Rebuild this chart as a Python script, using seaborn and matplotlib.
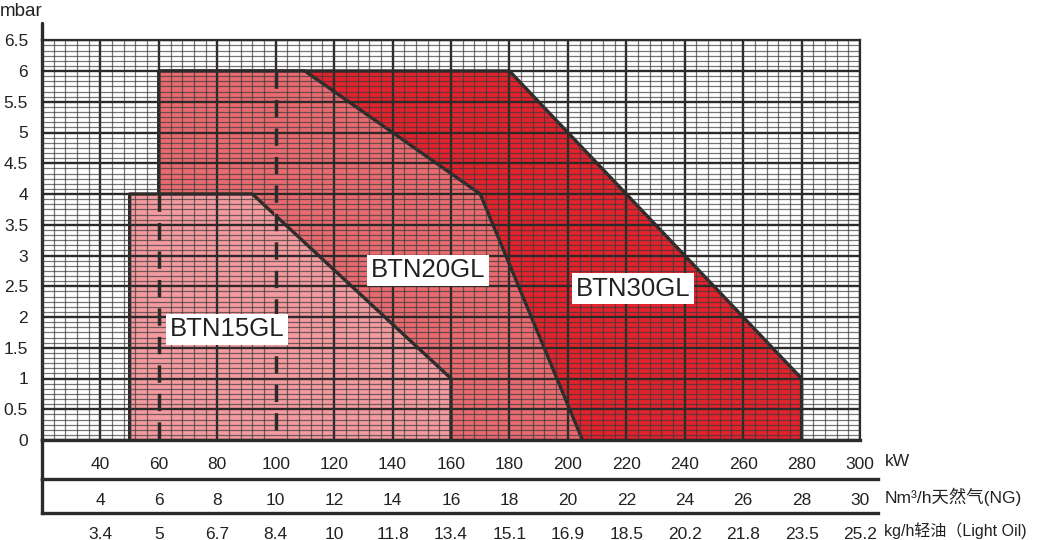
import matplotlib
matplotlib.use("Agg")
import matplotlib.pyplot as plt
import seaborn as sns
import pandas as pd
import numpy as np
from matplotlib.ticker import MultipleLocator

# burner working ranges (kW vs mbar)
btn15_kw = [50, 50, 92, 160, 160]
btn15_mbar = [0, 4, 4, 1, 0]
btn20_kw = [60, 60, 110, 170, 205]
btn20_mbar = [0, 6, 6, 4, 0]
btn30_kw = [60, 60, 180, 280, 280]
btn30_mbar = [0, 6, 6, 1, 0]

models = ["BTN30GL", "BTN20GL", "BTN15GL"]
fill_colors = ["#e3222c", "#e96b70", "#f49ba0"]
label_pos = [(222.3, 2.46), (152.1, 2.76), (83.3, 1.80)]

dash_kw = [60, 100]
dash_top = [4, 6]

kw_ticks = list(range(40, 301, 20))
ng_labels = ["4", "6", "8", "10", "12", "14", "16", "18", "20", "22", "24", "26", "28", "30"]
oil_labels = ["3.4", "5", "6.7", "8.4", "10", "11.8", "13.4", "15.1", "16.9",
              "18.5", "20.2", "21.8", "23.5", "25.2"]
mbar_ticks = [i * 0.5 for i in range(14)]

sns.set_style("white")
plt.rcParams["font.family"] = ["Liberation Sans", "Noto Sans CJK SC", "DejaVu Sans"]

dark = "#2e2a2a"
W, H = 1037, 540
fig = plt.figure(figsize=(W / 100, H / 100), dpi=100)

L = 42 / W
R = 860 / W
ax = fig.add_axes([L, 1 - 440 / H, R - L, (440 - 40.25) / H])

rows = [
    pd.DataFrame({"kw": btn30_kw, "mbar": btn30_mbar}),
    pd.DataFrame({"kw": btn20_kw, "mbar": btn20_mbar}),
    pd.DataFrame({"kw": btn15_kw, "mbar": btn15_mbar}),
]

# each range covers the outline of the one drawn before it
for i, df in enumerate(rows):
    ax.fill(df["kw"], df["mbar"], color=fill_colors[i], zorder=1 + 0.2 * i, lw=0)
    sns.lineplot(data=df, x="kw", y="mbar", sort=False, estimator=None,
                 color=dark, lw=2.4, ax=ax, zorder=1.1 + 0.2 * i)

# dashed lines: the gaps show the fill colour (with the horizontal grid)
top15 = np.interp(dash_kw, btn15_kw[2:4], btn15_mbar[2:4])
for x, t, d in zip(dash_kw, top15, dash_top):
    ax.plot([x, x], [0, t], color=fill_colors[2], lw=2.6, zorder=1.9)
    if t < d:
        ax.plot([x, x], [t, d], color=fill_colors[1], lw=2.6, zorder=1.9)
    ax.plot([x, x], [d, 0], color=dark, lw=2.5, ls=(0, (5.0, 3.2)), zorder=3.5)

for i, name in enumerate(models):
    ax.text(label_pos[i][0], label_pos[i][1], name, fontsize=18.5, ha="center",
            va="center", color="#222222", zorder=5,
            bbox=dict(boxstyle="square,pad=0.14", fc="white", ec="none"))

ax.set_xlim(20, 300)
ax.set_ylim(0, 6.5)
ax.set_xticks(kw_ticks)
ax.set_xticklabels([str(v) for v in kw_ticks])
ax.set_yticks(mbar_ticks)
ax.set_yticklabels(["0" if v == 0 else ("%g" % v) for v in mbar_ticks])
ax.xaxis.set_minor_locator(MultipleLocator(4))
ax.yaxis.set_minor_locator(MultipleLocator(1 / 12))
ax.set_axisbelow(False)
ax.grid(axis="y", which="major", color=dark, lw=1.7, zorder=2)
ax.grid(which="minor", color="#3a3a3a", lw=0.9, alpha=0.7, zorder=2)
# vertical major lines; where a dashed line runs, only above it
for x in kw_ticks:
    low = dash_top[dash_kw.index(x)] if x in dash_kw else 0
    ax.vlines(x, low, 6.5, color=dark, lw=1.7, zorder=2.5)
ax.tick_params(which="minor", length=0)
ax.tick_params(axis="x", which="major", direction="out", length=7, width=2,
               color=dark, labelsize=12.5, pad=5, labelcolor="#222222")
ax.tick_params(axis="y", which="major", direction="out", length=8, width=2,
               color=dark, labelsize=12.5, pad=2, labelcolor="#222222")
for side in ["left", "bottom"]:
    ax.spines[side].set_linewidth(2.4)
    ax.spines[side].set_color(dark)
for side in ["top", "right"]:
    ax.spines[side].set_linewidth(1.6)
    ax.spines[side].set_color(dark)
ax.set_xlabel("")
ax.set_ylabel("")
ax.plot([20, 20], [6.5, 6.78], color=dark, lw=2.4, clip_on=False, zorder=6)

# extra scales under the kW axis
R2 = 878 / W
xmax2 = 20 + 280 * (878 - 42) / (860 - 42)
for top_px, bot_px, labels in [(440, 479, ng_labels), (479, 513, oil_labels)]:
    sub = fig.add_axes([L, 1 - bot_px / H, R2 - L, (bot_px - top_px) / H])
    sub.patch.set_alpha(0)
    sub.set_xlim(20, xmax2)
    sub.set_ylim(0, 1)
    sub.set_xticks(kw_ticks)
    sub.set_xticklabels(labels)
    sub.set_yticks([])
    sub.tick_params(axis="x", direction="out", length=7, width=2, color=dark,
                    labelsize=12.5, pad=3, labelcolor="#222222")
    for side in ["top", "right"]:
        sub.spines[side].set_visible(False)
    for side in ["left", "bottom"]:
        sub.spines[side].set_linewidth(2.4)
        sub.spines[side].set_color(dark)

fig.text(885 / W, 1 - 462 / H, "kW", fontsize=12.5, va="center", color="#222222")
fig.text(885 / W, 1 - 497 / H, "Nm\u00b3/h天然气(NG)", fontsize=12.5, va="center", color="#222222")
fig.text(884 / W, 1 - 531 / H, "kg/h轻油（Light Oil)", fontsize=11.5, va="center", color="#222222")
fig.text(0 / W, 1 - 11 / H, "mbar", fontsize=13.5, va="center", color="#222222")

fig.savefig("out.png", dpi=100)
